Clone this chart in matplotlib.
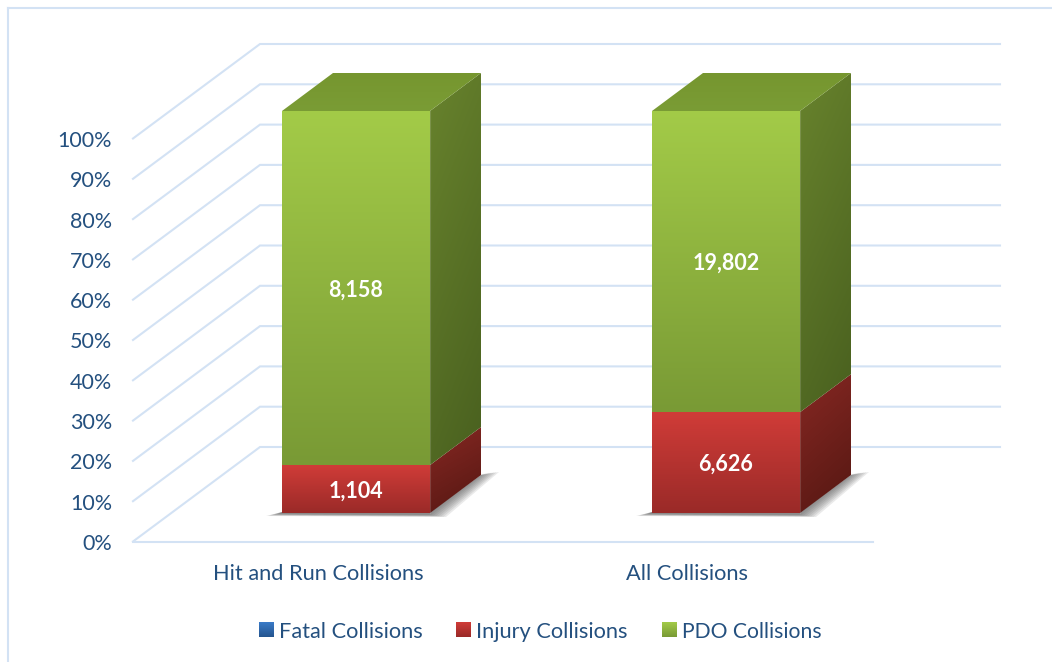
import numpy as np
import matplotlib
matplotlib.use("Agg")
import matplotlib.pyplot as plt
from matplotlib.colors import to_rgb
from matplotlib.patches import Polygon

# Data
categorias = ["Hit and Run Collisions", "All Collisions"]
series = ["Fatal Collisions", "Injury Collisions", "PDO Collisions"]
fatal = [0, 0]
injury = [1104, 6626]
pdo = [8158, 19802]
ticks = [0, 10, 20, 30, 40, 50, 60, 70, 80, 90, 100]

# Colours: (top, bottom) of each gradient
front_cols = [("#3A7BC8", "#25558F"), ("#D03C38", "#9A2A28"), ("#A3CB48", "#799A35")]
side_cols = [("#2A5A90", "#1A3A60"), ("#872823", "#541712"), ("#68832D", "#49601F")]
top_col = ("#76962F", "#7A9C35")
grid_col = "#D3E2F4"
text_col = "#24507F"

plt.rcParams["font.family"] = ["Lato", "DejaVu Sans"]

fig = plt.figure(figsize=(10.52, 6.62), dpi=100)
ax = fig.add_axes([0, 0, 1, 1])

# Layout of the fake 3D box, in pixels
floor_left, floor_right, floor_y = 133, 873, 541.5
depth_x, depth_y = 127, -94.5
scale_h = 403
bar_w, bar_dx, bar_dy = 148, 51, -38
bar_bottom, bar_h = 513, 402
bar_lefts = [282, 652]
cat_centers = [318.5, 687.5]


def grad(pts, c1, c2, diag=0.0):
    # polygon filled with a vertical gradient (diag tilts it to the right)
    pts = np.array(pts, dtype=float)
    x0, x1 = pts[:, 0].min(), pts[:, 0].max()
    y0, y1 = pts[:, 1].min(), pts[:, 1].max()
    yy, xx = np.mgrid[0:1:128j, 0:1:64j]
    t = np.clip(yy * (1 - diag) + xx * diag, 0, 1)[..., None]
    img = np.array(to_rgb(c1)) * (1 - t) + np.array(to_rgb(c2)) * t
    im = ax.imshow(img, extent=(x0, x1, y1, y0), aspect="auto", zorder=3, interpolation="bilinear")
    im.set_clip_path(Polygon(pts, closed=True, transform=ax.transData))


# Outer frame of the chart
ax.plot([8, 8], [8, 662], color=grid_col, lw=1.5, zorder=1)
ax.plot([8, 1052], [8, 8], color=grid_col, lw=1.5, zorder=1)

# Gridlines on the wall and floor, with the percent labels
for t in ticks:
    y = floor_y - scale_h * t / 100
    ax.plot([floor_left, floor_left + depth_x, floor_right + depth_x],
            [y, y + depth_y, y + depth_y], color=grid_col, lw=1.5, zorder=1,
            solid_joinstyle="miter")
    ax.text(112, y + 2.5, f"{t}%", ha="right", va="center", color=text_col, fontsize=15.5)
ax.plot([floor_left, floor_right], [floor_y, floor_y], color=grid_col, lw=1.5, zorder=1)

# Bars
for i, left in enumerate(bar_lefts):
    valores = [fatal[i], injury[i], pdo[i]]
    total = sum(valores)
    right = left + bar_w

    # soft shadow on the floor
    for k in range(8):
        g = k * 2.4
        ax.add_patch(Polygon([(left - 16 + k * 1.8, bar_bottom + 3 - k * 0.3), (left, bar_bottom - 1),
                              (right, bar_bottom - 1), (right + bar_dx, bar_bottom + bar_dy),
                              (right + bar_dx + 18 - g, bar_bottom + bar_dy - 3 + k * 0.2),
                              (right + 16 - g, bar_bottom + 4 - k * 0.3)],
                             closed=True, fc="#444444", ec="none", alpha=0.11, zorder=2))

    acum = 0
    for j, v in enumerate(valores):
        if v == 0:
            continue
        y0 = bar_bottom - bar_h * acum / total
        y1 = bar_bottom - bar_h * (acum + v) / total
        grad([(left, y1), (right, y1), (right, y0), (left, y0)], *front_cols[j])
        grad([(right, y1), (right + bar_dx, y1 + bar_dy), (right + bar_dx, y0 + bar_dy), (right, y0)],
             *side_cols[j], diag=0.25)
        ax.text(left + bar_w / 2, (y0 + y1) / 2 + 2, f"{v:,}", ha="center", va="center",
                color="white", fontsize=15.5, fontweight="bold", zorder=5)
        acum += v

    # top face
    y_top = bar_bottom - bar_h
    grad([(left, y_top), (right, y_top), (right + bar_dx, y_top + bar_dy), (left + bar_dx, y_top + bar_dy)],
         *top_col)
    ax.plot([right, right], [y_top, bar_bottom], color="#FFFFFF", alpha=0.15, lw=0.8, zorder=4)

    ax.text(cat_centers[i], 573.5, categorias[i], ha="center", va="center",
            color=text_col, fontsize=15.7)

# Legend
legend_x = [259, 456, 662]
legend_txt = [279, 476, 682]
legend_fs = [15.7, 15.7, 15.2]
for j, nome in enumerate(series):
    grad([(legend_x[j], 622), (legend_x[j] + 15, 622), (legend_x[j] + 15, 637), (legend_x[j], 637)],
         *front_cols[j])
    ax.text(legend_txt[j], 631.5, nome, ha="left", va="center", color=text_col, fontsize=legend_fs[j])

ax.set_xlim(0, 1052)
ax.set_ylim(662, 0)
ax.axis("off")
fig.savefig("out.png", dpi=100)
